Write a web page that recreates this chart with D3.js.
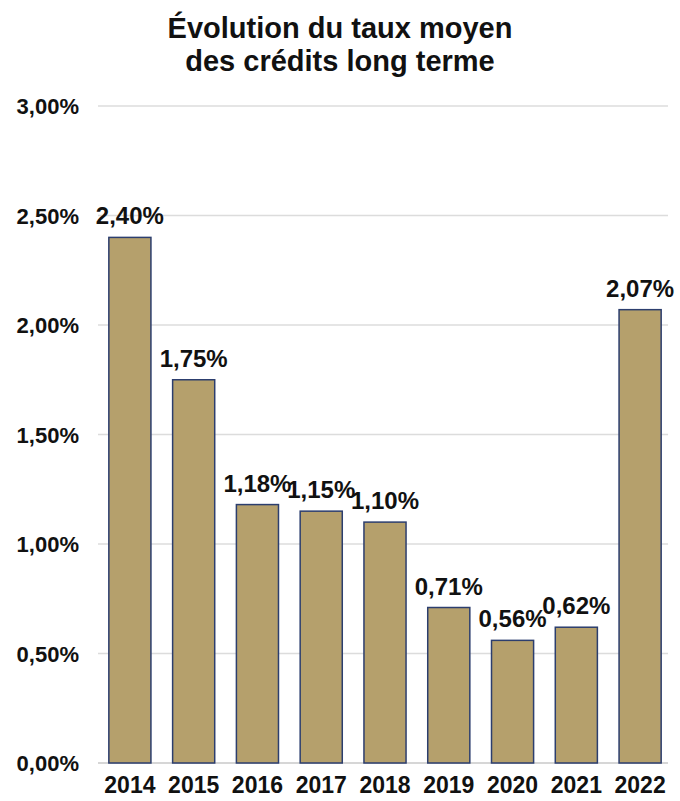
<!DOCTYPE html>
<html>
<head>
<meta charset="utf-8">
<script src="https://cdn.jsdelivr.net/npm/d3@7"></script>
<style>
  body { margin: 0; background: #fff; }
  text { font-family: "Liberation Sans", Arial, sans-serif; font-weight: bold; fill: #111; }
</style>
</head>
<body>
<div id="chart"></div>
<script>
var years = ["2014", "2015", "2016", "2017", "2018", "2019", "2020", "2021", "2022"];
var rates = [2.40, 1.75, 1.18, 1.15, 1.10, 0.71, 0.56, 0.62, 2.07];
var yTicks = [0, 0.5, 1, 1.5, 2, 2.5, 3];
var titleLines = ["Évolution du taux moyen", "des crédits long terme"];

var width = 680, height = 801;
var margin = {top: 106, right: 8, bottom: 38, left: 98};

var svg = d3.select("#chart").append("svg")
  .attr("width", width)
  .attr("height", height);

var fmt = function(v) { return v.toFixed(2).replace(".", ",") + "%"; };

var x = d3.scaleBand()
  .domain(years)
  .range([margin.left, width - margin.right])
  .paddingInner(0.34)
  .paddingOuter(0.17);

var y = d3.scaleLinear()
  .domain([0, 3])
  .range([height - margin.bottom, margin.top]);

// title
svg.append("g").selectAll("text")
  .data(titleLines)
  .enter().append("text")
    .attr("x", 340)
    .attr("y", function(d, i) { return 38 + i * 33; })
    .attr("text-anchor", "middle")
    .style("font-size", "29px")
    .text(function(d) { return d; });

// grid
svg.append("g").selectAll("line")
  .data(yTicks)
  .enter().append("line")
    .attr("x1", margin.left)
    .attr("x2", width - margin.right - 4)
    .attr("y1", function(d) { return y(d); })
    .attr("y2", function(d) { return y(d); })
    .attr("stroke", function(d) { return d == 0 ? "#c8c8c8" : "#dcdcdc"; })
    .attr("stroke-width", 1.5);

// y labels
var yAxis = d3.axisLeft(y).tickValues(yTicks).tickFormat(fmt).tickSize(0).tickPadding(0);
var ya = svg.append("g")
  .attr("transform", "translate(79,0)")
  .call(yAxis);
ya.select(".domain").remove();
ya.selectAll("text")
  .attr("dy", "0.35em")
  .style("font-size", "22px")
  .style("font-family", "\"Liberation Sans\", Arial, sans-serif")
  .style("font-weight", "bold")
  .attr("fill", "#111");

// x labels
var xAxis = d3.axisBottom(x).tickSize(0).tickPadding(0);
var xa = svg.append("g")
  .attr("transform", "translate(0," + (height - margin.bottom + 10) + ")")
  .call(xAxis);
xa.select(".domain").remove();
xa.selectAll("text")
  .attr("dy", "0.85em")
  .style("font-size", "23px")
  .style("font-family", "\"Liberation Sans\", Arial, sans-serif")
  .style("font-weight", "bold")
  .attr("fill", "#111");

// bars
svg.append("g").selectAll("rect")
  .data(rates)
  .enter().append("rect")
    .attr("x", function(d, i) { return x(years[i]); })
    .attr("y", function(d) { return y(d); })
    .attr("width", x.bandwidth())
    .attr("height", function(d) { return y(0) - y(d); })
    .attr("fill", "#b5a06c")
    .attr("stroke", "#2c3e6e")
    .attr("stroke-width", 1.5);

// value labels
svg.append("g").selectAll("text")
  .data(rates)
  .enter().append("text")
    .attr("x", function(d, i) { return x(years[i]) + x.bandwidth() / 2; })
    .attr("y", function(d) { return y(d) - 13; })
    .attr("text-anchor", "middle")
    .style("font-size", "24px")
    .text(fmt);
</script>
</body>
</html>
